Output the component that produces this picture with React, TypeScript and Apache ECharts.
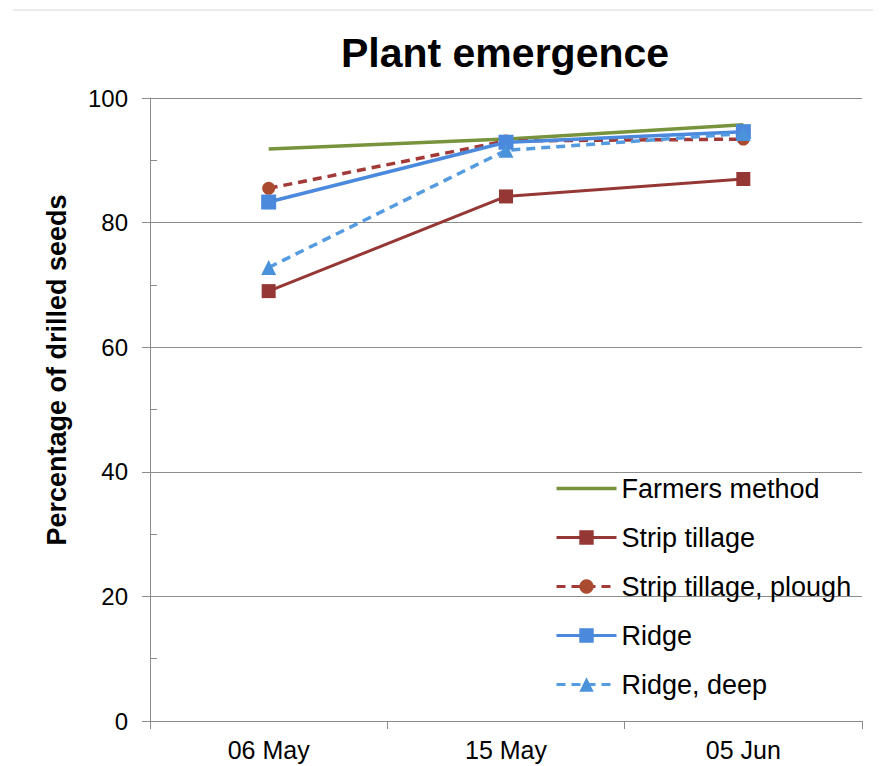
import React, { useEffect, useRef } from "react";
import * as echarts from "echarts";

const categories = ["06 May", "15 May", "05 Jun"];
const farmersMethod = [91.8, 93.4, 95.7];
const stripTillage = [69.0, 84.2, 87.0];
const stripTillagePlough = [85.5, 93.1, 93.4];
const ridge = [83.3, 92.9, 94.6];
const ridgeDeep = [72.8, 91.6, 94.3];
const seriesNames = ["Farmers method", "Strip tillage", "Strip tillage, plough", "Ridge", "Ridge, deep"];

const FONT = "Liberation Sans, Arial, sans-serif";

export default function App() {
  const ref = useRef<HTMLDivElement>(null);
  useEffect(() => {
    if (!ref.current) return;
    const chart = echarts.init(ref.current, null, { renderer: "svg" });
    const gridColor = "#8c8c8c";
    chart.setOption({
      animation: false,
      backgroundColor: "#fff",
      textStyle: { fontFamily: FONT },
      title: {
        text: "Plant emergence",
        left: 492,
        top: 19,
        textAlign: "center",
        textStyle: { fontSize: 41, fontWeight: "bold", color: "#000", fontFamily: FONT },
      },
      grid: { left: 142, right: 11, top: 90, bottom: 45, containLabel: false },
      graphic: [
        {
          type: "line",
          shape: { x1: 5, y1: 2, x2: 881, y2: 2 },
          style: { stroke: "#d9d9d9", lineWidth: 1 },
        },
        {
          type: "text",
          x: 49,
          y: 362,
          rotation: Math.PI / 2,
          style: {
            text: "Percentage of drilled seeds",
            fontSize: 27,
            fontWeight: "bold",
            fontFamily: FONT,
            fill: "#000",
            align: "center",
            verticalAlign: "middle",
          },
        },
      ],
      legend: {
        orient: "vertical",
        left: 542,
        top: 462,
        itemWidth: 60,
        itemHeight: 18,
        itemGap: 22,
        data: [
          { name: seriesNames[0], icon: "path://M0,0 L60,0 L60,3.5 L0,3.5 Z" },
          seriesNames[1],
          seriesNames[2],
          seriesNames[3],
          seriesNames[4],
        ],
        lineStyle: { width: 3 },
        textStyle: { fontSize: 27, color: "#000", fontFamily: FONT, lineHeight: 27 },
      },
      xAxis: {
        type: "category",
        data: categories,
        boundaryGap: true,
        axisLine: { lineStyle: { color: gridColor, width: 1 } },
        axisTick: { show: true, length: 8, lineStyle: { color: gridColor } },
        axisLabel: { fontSize: 25, color: "#000", margin: 16, fontFamily: FONT },
      },
      yAxis: [
        {
          type: "value",
          min: 0,
          max: 100,
          interval: 20,
          axisLine: { show: true, lineStyle: { color: gridColor } },
          axisTick: { show: true, length: 8, lineStyle: { color: gridColor } },
          axisLabel: { fontSize: 24, color: "#000", margin: 22, fontFamily: FONT },
          splitLine: { show: true, lineStyle: { color: gridColor, width: 1 } },
        },
        {
          type: "value",
          min: 0,
          max: 100,
          interval: 10,
          position: "left",
          axisLine: { show: false },
          axisTick: { show: true, inside: true, length: 7, lineStyle: { color: gridColor } },
          axisLabel: { show: false },
          splitLine: { show: false },
        },
      ],
      series: [
        {
          name: seriesNames[0],
          type: "line",
          data: farmersMethod,
          symbol: "none",
          lineStyle: { color: "#77933C", width: 3.5 },
          itemStyle: { color: "#77933C" },
          z: 2,
        },
        {
          name: seriesNames[1],
          type: "line",
          data: stripTillage,
          symbol: "rect",
          symbolSize: 14,
          lineStyle: { color: "#953735", width: 3 },
          itemStyle: { color: "#953735" },
          z: 3,
        },
        {
          name: seriesNames[2],
          type: "line",
          data: stripTillagePlough,
          symbol: "circle",
          symbolSize: 13,
          lineStyle: { color: "#A33A38", width: 3.5, type: [9, 6] },
          itemStyle: { color: "#AA4A2E" },
          z: 3,
        },
        {
          name: seriesNames[3],
          type: "line",
          data: ridge,
          symbol: "rect",
          symbolSize: 15,
          lineStyle: { color: "#4A89DC", width: 3.5 },
          itemStyle: { color: "#4A89DC" },
          z: 4,
        },
        {
          name: seriesNames[4],
          type: "line",
          data: ridgeDeep,
          symbol: "triangle",
          symbolSize: 15,
          lineStyle: { color: "#559BE0", width: 3.5, type: [9, 6] },
          itemStyle: { color: "#4A92DA" },
          z: 4,
        },
      ],
    });
    return () => chart.dispose();
  }, []);
  return <div ref={ref} style={{ width: 865, height: 758 }} />;
}
